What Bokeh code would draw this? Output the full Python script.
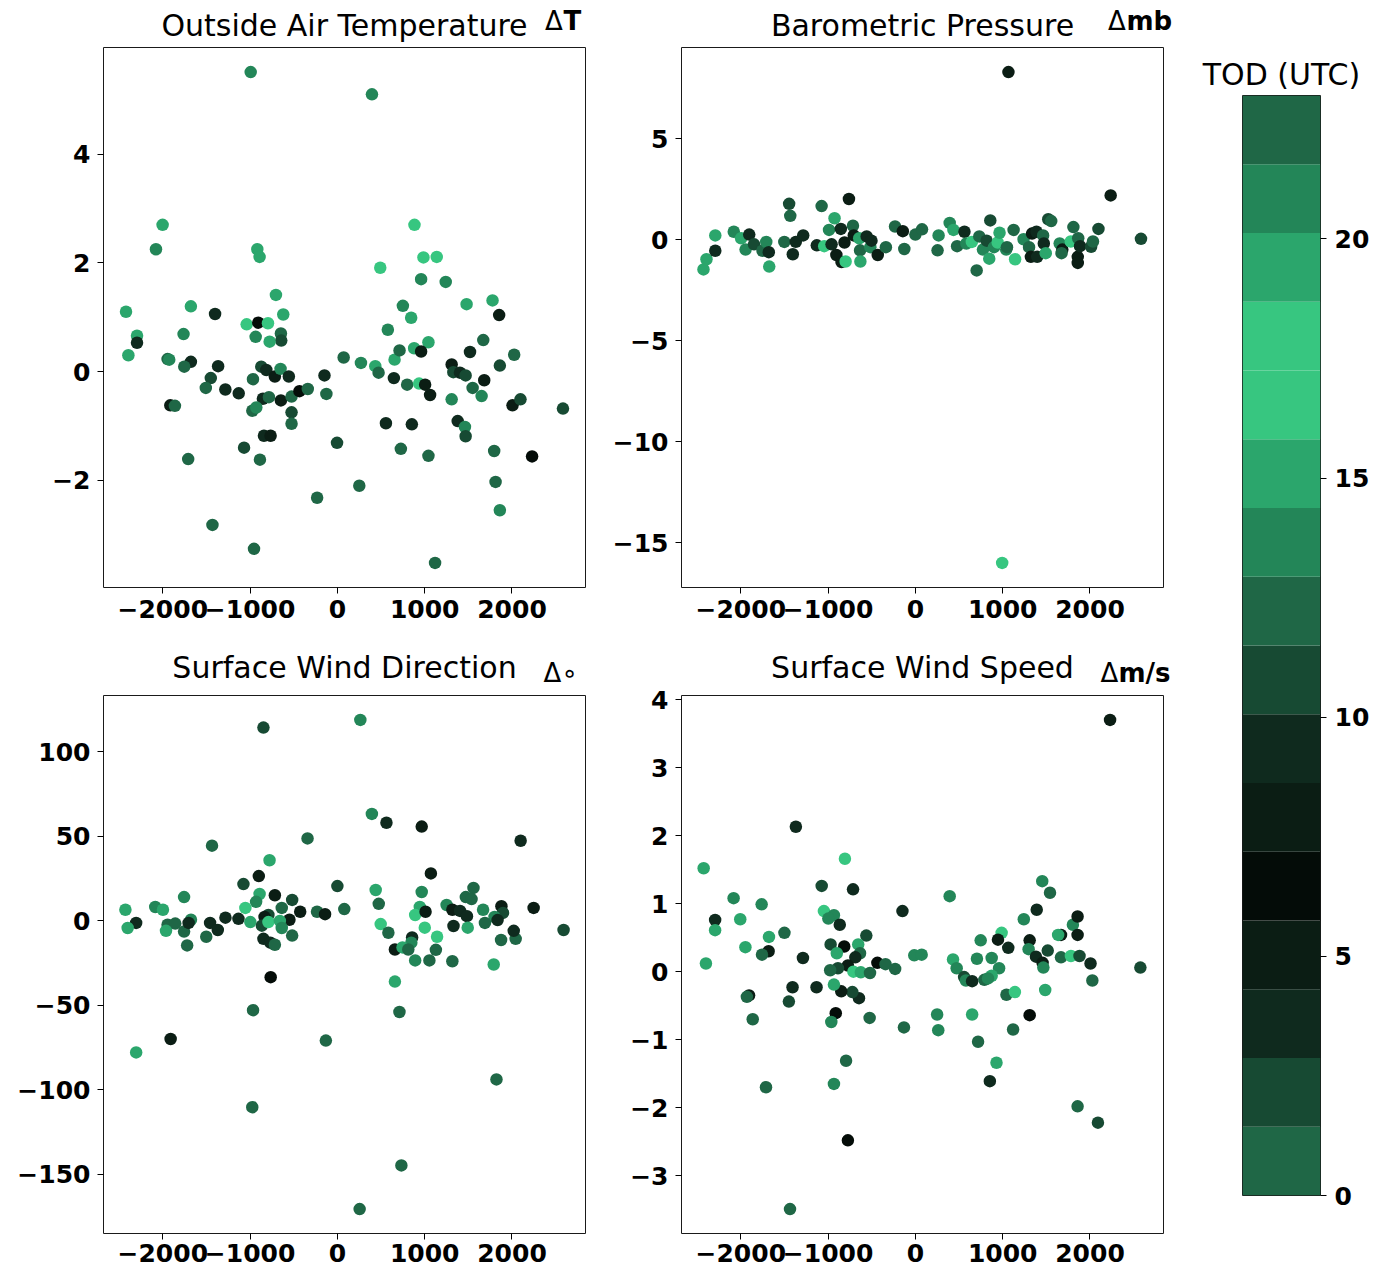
import numpy as np
from bokeh.plotting import figure
from bokeh.models import Range1d, FixedTicker, ColumnDataSource
from bokeh.layouts import row, column
from bokeh.transform import linear_cmap
from bokeh.core.properties import value
from bokeh.embed import file_html
from bokeh.resources import INLINE

# ---------------- data ----------------
tod_palette = ["#1f6746", "#174a33", "#0f2a1e", "#0b1d14", "#040c08", "#0b1d14",
               "#0f2a1e", "#174a33", "#1f6746", "#238658", "#2ba66c", "#37c680",
               "#37c680", "#2ba66c", "#238658", "#1f6746"]
tod_low = 0
tod_high = 23

x_ticks = [-2000, -1000, 0, 1000, 2000]
x_tick_labels = ["−2000", "−1000", "0", "1000", "2000"]
oat_yticks = [-2, 0, 2, 4]
oat_ytick_labels = ["−2", "0", "2", "4"]
bp_yticks = [-15, -10, -5, 0, 5]
bp_ytick_labels = ["−15", "−10", "−5", "0", "5"]
wd_yticks = [-150, -100, -50, 0, 50, 100]
wd_ytick_labels = ["−150", "−100", "−50", "0", "50", "100"]
ws_yticks = [-3, -2, -1, 0, 1, 2, 3, 4]
ws_ytick_labels = ["−3", "−2", "−1", "0", "1", "2", "3", "4"]
cb_ticks = [0, 5, 10, 15, 20]
cb_tick_labels = ["0", "5", "10", "15", "20"]

titles = ["Outside Air Temperature", "Barometric Pressure",
          "Surface Wind Direction", "Surface Wind Speed"]
units = ["T", "mb", "∘", "m/s"]
cb_title = "TOD (UTC)"

# Outside Air Temperature
oat_x = [-993, 396, -2002, -2078, -917, -891, 883, 986, 1138, 491,
         959, 1241, -704, -2421, -1678, -1401, 750, 1480, 1777, 1853,
         -620, -1039, -906, -795, 845, 578, -2295, -2295, -1762, -936,
         -647, -643, -776, 1043, 1671, -2394, -1945, -1926, -1678, -1754,
         -1366, 72, 270, 434, 472, 655, 712, 879, 959, 1519,
         2025, 1861, 1309, 1328, 1404, 1469, 1682, 1549, 1652, 1309,
         -872, -814, -716, -651, -556, -967, -1450, -1507, -1283, -1130,
         -853, -784, -647, -525, -434, -339, -148, -126, -974, -929,
         -525, -525, -1914, -1861, -841, -765, -1069, -887, -1709, -4,
         647, 799, 936, 1005, 1062, 556, 853, 727, 1043, 1378,
         1461, 1469, 1796, 1812, 1861, 2006, 2097, 2230, 2584, 251,
         -232, -1431, -955, 1119]
oat_y = [5.51, 5.10, 2.70, 2.25, 2.25, 2.11, 2.70, 2.10, 2.11, 1.91,
         1.70, 1.65, 1.41, 1.10, 1.20, 1.06, 1.21, 1.24, 1.31, 1.04,
         1.05, 0.87, 0.90, 0.89, 0.99, 0.77, 0.66, 0.53, 0.69, 0.64,
         0.70, 0.57, 0.55, 0.54, 0.58, 0.30, 0.23, 0.22, 0.18, 0.09,
         0.10, 0.26, 0.16, 0.10, -0.02, 0.22, 0.39, 0.43, 0.37, 0.36,
         0.31, 0.11, 0.13, -0.01, -0.02, -0.07, -0.16, -0.30, -0.45, -0.51,
         0.09, 0.03, -0.09, 0.05, -0.09, -0.14, -0.12, -0.30, -0.33, -0.40,
         -0.50, -0.47, -0.53, -0.46, -0.36, -0.32, -0.07, -0.41, -0.72, -0.66,
         -0.75, -0.96, -0.62, -0.63, -1.18, -1.18, -1.40, -1.62, -1.61, -1.31,
         -0.12, -0.24, -0.22, -0.24, -0.43, -0.95, -0.97, -1.42, -1.55, -0.91,
         -1.02, -1.19, -1.46, -2.03, -2.55, -0.62, -0.51, -1.56, -0.68, -2.10,
         -2.32, -2.82, -3.26, -3.52]
oat_tod = [13.7, 13.7, 15.1, 13.7, 15.1, 15.1, 16.5, 16.5, 16.5, 16.5,
           13.7, 13.7, 15.1, 15.1, 15.1, 9.3, 13.7, 15.1, 15.1, 7.9,
           15.1, 16.5, 6.5, 16.5, 15.1, 13.7, 15.1, 9.3, 13.7, 13.7,
           12.2, 10.8, 15.1, 15.1, 12.2, 15.1, 12.2, 13.7, 9.3, 12.2,
           9.3, 12.2, 13.7, 15.1, 12.2, 15.1, 12.2, 15.1, 7.9, 9.3,
           12.2, 10.8, 7.9, 10.8, 9.3, 10.8, 7.9, 12.2, 13.7, 13.7,
           10.8, 9.3, 7.9, 13.7, 9.3, 12.2, 10.8, 12.2, 9.3, 9.3,
           9.3, 12.2, 7.9, 12.2, 6.5, 12.2, 9.3, 12.2, 12.2, 13.7,
           10.8, 12.2, 7.9, 12.2, 9.3, 7.9, 10.8, 12.2, 12.2, 10.8,
           9.3, 12.2, 16.5, 7.9, 7.9, 9.3, 9.3, 12.2, 12.2, 9.3,
           13.7, 10.8, 12.2, 12.2, 13.7, 7.9, 10.8, 6.5, 10.8, 12.2,
           12.2, 12.2, 12.2, 12.2]

# Barometric Pressure
bp_x = [1066, 994, 2237, 2584, -2427, -2393, -2292, -2292, -2080, -1996,
        -1945, -1903, -1848, -1751, -1708, -1679, -1674, -1501, -1446, -1433,
        -1404, -1370, -1285, -1129, -1074, -1044, -989, -960, -926, -905,
        -854, -846, -812, -799, -761, -715, -706, -643, -634, -630,
        -558, -516, -503, -431, -338, -233, -144, -127, 0, 76,
        254, 266, 393, 436, 478, 562, 584, 647, 702, 732,
        774, 816, 846, 858, 901, 943, 964, 1040, 1049, 1125,
        1142, 1239, 1302, 1323, 1336, 1387, 1395, 1463, 1471, 1493,
        1522, 1556, 1653, 1683, 1674, 1780, 1810, 1865, 1860, 1860,
        1886, 2013, 2034, 2097]
bp_y = [8.29, -15.99, 2.19, 0.04, -1.47, -0.97, -0.55, 0.21, 0.39, 0.07,
        -0.49, 0.25, -0.23, -0.55, -0.11, -0.62, -1.33, -0.11, 1.77, 1.18,
        -0.72, -0.11, 0.21, -0.28, 1.66, -0.32, 0.48, -0.23, 1.06, -0.76,
        0.53, -1.11, -0.14, -1.08, 2.01, 0.69, 0.21, 0.07, -0.53, -1.08,
        0.16, -0.37, -0.05, -0.76, -0.37, 0.65, 0.42, -0.46, 0.25, 0.51,
        -0.53, 0.21, 0.83, 0.48, -0.32, 0.39, -0.19, -0.11, -1.52, 0.16,
        -0.49, -0.05, -0.94, 0.95, -0.37, -0.14, 0.34, -0.49, -0.37, 0.48,
        -0.97, 0.02, -0.37, -0.85, 0.30, 0.39, -0.85, 0.21, -0.19, -0.67,
        1.01, 0.92, -0.19, -0.49, -0.67, -0.09, 0.62, 0.07, -0.85, -1.15,
        -0.32, -0.35, -0.09, 0.53]
bp_tod = [7.9, 16.5, 7.9, 10.8, 15.1, 15.1, 9.3, 15.1, 13.7, 15.1,
          13.7, 9.3, 10.8, 12.2, 13.7, 9.3, 15.1, 12.2, 10.8, 12.2,
          9.3, 9.3, 9.3, 9.3, 12.2, 16.5, 13.7, 9.3, 15.1, 7.9,
          9.3, 7.9, 7.9, 16.5, 7.9, 12.2, 7.9, 15.1, 12.2, 15.1,
          9.3, 13.7, 9.3, 7.9, 12.2, 12.2, 7.9, 12.2, 12.2, 12.2,
          12.2, 13.7, 13.7, 15.1, 12.2, 9.3, 13.7, 16.5, 12.2, 12.2,
          13.7, 10.8, 15.1, 10.8, 13.7, 16.5, 15.1, 13.7, 12.2, 12.2,
          16.5, 13.7, 12.2, 7.9, 7.9, 9.3, 9.3, 12.2, 9.3, 15.1,
          10.8, 12.2, 13.7, 7.9, 12.2, 16.5, 12.2, 12.2, 7.9, 7.9,
          9.3, 10.8, 12.2, 10.8]

# Surface Wind Direction
wd_x = [263, -847, 395, 562, 966, 2099, -342, -1436, -777, -900,
        1071, -1076, 0, 1559, 439, 966, -891, -716, -1756, 1471,
        1537, -518, -931, 474, 1251, 1879, 2248, -2086, -1998, -2428,
        -1054, 79, -637, 944, 1669, 1317, 1405, 1897, 891, 1010,
        -426, -233, -141, -1282, -1133, -1677, -549, 1484, 1800, 1835,
        1690, -790, -834, -2305, -2402, -1945, -1857, -1963, -1756, -1704,
        -1458, -1370, -1502, -997, -865, -790, -659, -637, -518, -847,
        -768, -716, -1721, 1493, 496, 1001, 584, 1142, 856, 847,
        659, 746, 812, 1128, 891, 1054, 1317, 1791, 1875, 2042,
        2020, 2591, 1330, -764, 659, -966, 711, -132, -1910, -2305,
        1822, -975, 733, 255]
wd_y = [118.9, 114.4, 63.3, 58.1, 55.8, 47.4, 48.8, 44.5, 35.9, 26.5,
        28.1, 21.8, 20.6, 19.5, 18.3, 17.1, 15.9, 15.2, 14.1, 14.1,
        12.9, 12.4, 11.3, 10.1, 9.4, 8.7, 7.7, 8.2, 6.6, 6.6,
        7.7, 7.0, 7.7, 8.2, 6.6, 6.6, 5.9, 4.7, 3.5, 5.4,
        5.4, 5.4, 4.0, 1.9, 1.2, 0.7, 0.7, 2.8, 2.3, 0.5,
        -1.2, 3.5, 2.3, -1.2, -4.2, -2.3, -1.6, -5.9, -6.3, -1.2,
        -1.2, -5.4, -9.4, -0.7, -2.8, -0.7, 0.0, -4.2, -8.7, -10.6,
        -12.9, -14.1, -14.5, -4.0, -1.9, -4.0, -7.0, -9.4, -9.8, -12.9,
        -16.9, -15.7, -16.9, -17.1, -23.4, -23.4, -23.9, -25.8, -11.3, -10.6,
        -5.9, -5.4, -3.0, -33.3, -35.9, -52.8, -53.9, -70.8, -69.9, -77.8,
        -93.8, -110.2, -144.7, -170.5]
wd_tod = [13.7, 10.8, 13.7, 9.3, 7.9, 9.3, 12.2, 12.2, 15.1, 7.9,
          7.9, 10.8, 10.8, 12.2, 15.1, 13.7, 15.1, 7.9, 13.7, 12.2,
          12.2, 10.8, 13.7, 12.2, 13.7, 7.9, 7.9, 13.7, 15.1, 15.1,
          16.5, 12.2, 12.2, 15.1, 13.7, 7.9, 9.3, 10.8, 16.5, 7.9,
          7.9, 12.2, 7.9, 9.3, 9.3, 13.7, 7.9, 9.3, 13.7, 9.3,
          12.2, 10.8, 7.9, 9.3, 15.1, 12.2, 12.2, 15.1, 12.2, 9.3,
          9.3, 9.3, 12.2, 15.1, 10.8, 16.5, 15.1, 13.7, 12.2, 9.3,
          9.3, 12.2, 12.2, 15.1, 16.5, 16.5, 12.2, 16.5, 9.3, 13.7,
          7.9, 15.1, 12.2, 12.2, 13.7, 12.2, 12.2, 15.1, 12.2, 12.2,
          9.3, 10.8, 9.3, 6.5, 15.1, 12.2, 12.2, 12.2, 7.9, 15.1,
          12.2, 12.2, 12.2, 12.2]

# Surface Wind Speed
ws_x = [2230, -1369, -807, -2425, -1073, -714, -2082, -1761, 393, 1453,
        1542, -148, -1048, -933, -997, -866, -2294, -2294, -2006, -1677,
        -1500, -562, 1242, 1390, 1804, 1858, 1858, 1668, 1635, 748,
        988, 946, 1309, 1064, 1516, 1297, 1381, 1457, 1466, -971,
        -815, -900, -655, -634, -688, -773, -887, -976, -710, -625,
        -520, -435, -342, -232, -1288, -1681, -1757, -1947, -2399, -13,
        72, 431, 473, 558, 579, 650, 705, 874, 959, 790,
        874, 832, 1668, 1782, 1880, 2006, 2027, 2577, 1043, 1140,
        1487, 1309, 1119, 650, 249, 262, -131, -524, -912, -963,
        -646, -722, -849, -933, -1132, -1407, -1449, -1905, -1930, -1863,
        718, 929, -794, -933, -1711, 853, 1858, 2091, -773, -1436]
ws_y = [3.70, 2.13, 1.66, 1.52, 1.26, 1.21, 1.08, 0.99, 1.11, 1.33,
        1.16, 0.89, 0.89, 0.83, 0.78, 0.69, 0.76, 0.61, 0.77, 0.51,
        0.57, 0.53, 0.77, 0.91, 0.69, 0.81, 0.54, 0.54, 0.54, 0.46,
        0.57, 0.47, 0.46, 0.35, 0.31, 0.33, 0.22, 0.13, 0.06, 0.40,
        0.37, 0.27, 0.40, 0.27, 0.21, 0.09, 0.05, 0.02, 0.00, -0.01,
        -0.02, 0.13, 0.11, 0.04, 0.20, 0.30, 0.25, 0.36, 0.12, 0.24,
        0.25, 0.18, 0.05, -0.08, -0.13, -0.14, 0.19, 0.20, 0.05, -0.12,
        -0.06, -0.10, 0.21, 0.23, 0.23, 0.12, -0.13, 0.06, -0.34, -0.30,
        -0.27, -0.64, -0.85, -0.63, -0.63, -0.86, -0.82, -0.68, -0.61, -0.74,
        -0.39, -0.30, -0.29, -0.19, -0.23, -0.23, -0.44, -0.35, -0.37, -0.70,
        -1.03, -1.34, -1.31, -1.65, -1.70, -1.61, -1.98, -2.22, -2.48, -3.49]
ws_tod = [7.9, 9.3, 16.5, 15.1, 10.8, 9.3, 13.7, 13.7, 13.7, 13.7,
          12.2, 9.3, 16.5, 13.7, 13.7, 9.3, 9.3, 15.1, 15.1, 15.1,
          12.2, 10.8, 13.7, 9.3, 13.7, 7.9, 7.9, 7.9, 15.1, 13.7,
          16.5, 7.9, 7.9, 9.3, 10.8, 13.7, 9.3, 7.9, 13.7, 10.8,
          6.5, 15.1, 15.1, 12.2, 9.3, 7.9, 10.8, 12.2, 16.5, 15.1,
          12.2, 6.5, 12.2, 12.2, 9.3, 7.9, 12.2, 15.1, 15.1, 13.7,
          13.7, 15.1, 13.7, 10.8, 13.7, 9.3, 13.7, 13.7, 13.7, 12.2,
          15.1, 13.7, 12.2, 16.5, 10.8, 9.3, 12.2, 10.8, 12.2, 16.5,
          15.1, 6.5, 12.2, 15.1, 13.7, 13.7, 12.2, 12.2, 6.5, 13.7,
          9.3, 10.8, 7.9, 15.1, 9.3, 9.3, 10.8, 7.9, 12.2, 12.2,
          12.2, 15.1, 12.2, 13.7, 12.2, 9.3, 12.2, 10.8, 6.5, 12.2]

# ---------------- styling helpers ----------------
FONT = "DejaVu Sans"
all_x = oat_x + bp_x + wd_x + ws_x
xpad = 0.05 * (max(all_x) - min(all_x))
x_start, x_end = min(all_x) - xpad, max(all_x) + xpad


def padded(vals):
    pad = 0.05 * (max(vals) - min(vals))
    return Range1d(min(vals) - pad, max(vals) + pad)


def style_axis(ax, ticks, labels, standoff):
    ax.ticker = FixedTicker(ticks=ticks)
    ax.major_label_overrides = dict(zip(ticks, labels))
    ax.major_label_text_font = FONT
    ax.major_label_text_font_size = "25px"
    ax.major_label_text_font_style = "bold"
    ax.major_label_text_color = "black"
    ax.axis_line_color = None
    ax.major_tick_line_color = "black"
    ax.major_tick_line_width = 1
    ax.major_tick_in = 0
    ax.major_tick_out = 6
    ax.minor_tick_line_color = None
    ax.major_label_standoff = standoff


def panel(xs, ys, tods, yticks, ylabels, top_row, left_border, right_border):
    fh = 540 if top_row else 538
    p = figure(frame_width=482, frame_height=fh,
               min_border_left=left_border, min_border_right=right_border,
               min_border_top=2 if top_row else 8,
               min_border_bottom=43 if top_row else 39,
               x_range=Range1d(x_start, x_end), y_range=padded(ys),
               output_backend="svg", toolbar_location=None, tools="")
    src = ColumnDataSource(dict(x=xs, y=ys, tod=tods))
    p.scatter("x", "y", source=src, size=12.5,
              fill_color=linear_cmap("tod", tod_palette, tod_low, tod_high),
              line_color=None)
    style_axis(p.xaxis[0], x_ticks, x_tick_labels, 6 if top_row else 4)
    style_axis(p.yaxis[0], yticks, ylabels, 7)
    p.grid.visible = False
    p.outline_line_color = "#1a1a1a"
    p.outline_line_width = 1
    return p


# Bokeh's alphabetic baseline sits ~0.36 em lower than requested; compensate.
BASE_SHIFT = 0.36


def header(width, height, items):
    h = figure(frame_width=width, frame_height=height, min_border=0,
               x_axis_type=None, y_axis_type=None,
               x_range=Range1d(0, width), y_range=Range1d(height, 0),
               output_backend="svg", toolbar_location=None, tools="")
    h.grid.visible = False
    h.outline_line_color = None
    for (tx, ty, txt, size, style, align) in items:
        h.text(x=[tx], y=[ty - BASE_SHIFT * size], text=[txt], text_font=value(FONT),
               text_font_size=value(f"{size}px"), text_font_style=value(style),
               text_align=value(align), text_baseline=value("alphabetic"),
               text_color="black")
    return h


p_oat = panel(oat_x, oat_y, oat_tod, oat_yticks, oat_ytick_labels, True, 103, 16)
p_bp = panel(bp_x, bp_y, bp_tod, bp_yticks, bp_ytick_labels, True, 80, 20)
p_wd = panel(wd_x, wd_y, wd_tod, wd_yticks, wd_ytick_labels, False, 103, 16)
p_ws = panel(ws_x, ws_y, ws_tod, ws_yticks, ws_ytick_labels, False, 80, 20)

head_top = header(1183, 45, [
    (344, 36, titles[0], 30, "normal", "center"),
    (544.5, 29.5, "Δ", 26, "normal", "left"),
    (563, 29.5, units[0], 26, "bold", "left"),
    (922, 36, titles[1], 30, "normal", "center"),
    (1107.5, 29.5, "Δ", 26, "normal", "left"),
    (1126, 29.5, units[1], 26, "bold", "left"),
])
head_mid = header(1183, 57, [
    (344, 48, titles[2], 30, "normal", "center"),
    (543, 52, "Δ", 26, "normal", "left"),
    (561, 52, units[2], 26, "normal", "left"),
    (922, 48, titles[3], 30, "normal", "center"),
    (1100, 52, "Δ", 26, "normal", "left"),
    (1118, 52, units[3], 26, "bold", "left"),
])

# ---------------- colour bar ----------------
edges = np.linspace(tod_low, tod_high, len(tod_palette) + 1)
cb = figure(frame_width=78, frame_height=1100, min_border_left=59, min_border_right=55,
            min_border_top=95, min_border_bottom=77,
            x_range=Range1d(0, 1), y_range=Range1d(tod_low, tod_high),
            y_axis_location="right", output_backend="svg", toolbar_location=None, tools="")
cb.quad(left=0, right=1, bottom=edges[:-1], top=edges[1:], fill_color=tod_palette,
        line_color=None)
cb.xaxis.visible = False
style_axis(cb.yaxis[0], cb_ticks, cb_tick_labels, 8)
cb.grid.visible = False
cb.outline_line_color = "#1a1a1a"
cb.title.text = cb_title
cb.title.align = "center"
cb.title.text_font = FONT
cb.title.text_font_size = "30px"
cb.title.text_font_style = "normal"
cb.title.text_color = "black"
cb.title.standoff = 7

layout = row(column(head_top, row(p_oat, p_bp), head_mid, row(p_wd, p_ws)), cb)

open("out.html", "w").write(file_html(layout, INLINE))
